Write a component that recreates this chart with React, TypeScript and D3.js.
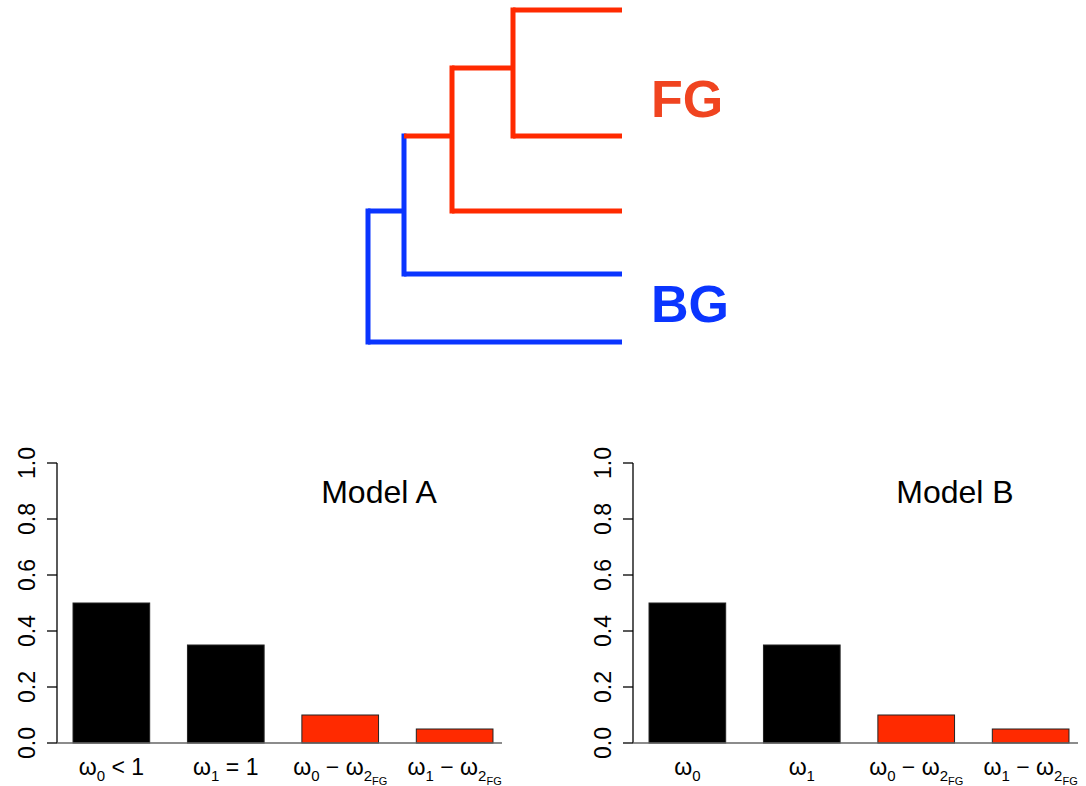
import React from 'react'
import * as d3 from 'd3'

// ---- tree data ----
interface TreeNode {
  name: string
  depth: number // branch-length distance from root
  pos: number // vertical position
  group: 'FG' | 'BG'
  children?: TreeNode[]
}

const tipDepth = 254
const tipPos = [0, 126, 201, 264, 332]
const internalDepth = [0, 36, 84, 145]
const internalPos = [266, 201, 126, 58]

const tree: TreeNode = {
  name: 'root', depth: internalDepth[0], pos: internalPos[0], group: 'BG',
  children: [
    {
      name: 'n1', depth: internalDepth[1], pos: internalPos[1], group: 'BG',
      children: [
        {
          name: 'n2', depth: internalDepth[2], pos: internalPos[2], group: 'FG',
          children: [
            {
              name: 'n3', depth: internalDepth[3], pos: internalPos[3], group: 'FG',
              children: [
                { name: 't1', depth: tipDepth, pos: tipPos[0], group: 'FG' },
                { name: 't2', depth: tipDepth, pos: tipPos[1], group: 'FG' },
              ],
            },
            { name: 't3', depth: tipDepth, pos: tipPos[2], group: 'FG' },
          ],
        },
        { name: 't4', depth: tipDepth, pos: tipPos[3], group: 'BG' },
      ],
    },
    { name: 't5', depth: tipDepth, pos: tipPos[4], group: 'BG' },
  ],
}

const groupLabels = ['FG', 'BG']

// ---- bar data ----
const categories = ['c1', 'c2', 'c3', 'c4']
const modelAValues = [0.5, 0.35, 0.1, 0.05]
const modelBValues = [0.5, 0.35, 0.1, 0.05]
const barGroups = ['BG', 'BG', 'FG', 'FG']
const yTicks = [0, 0.2, 0.4, 0.6, 0.8, 1.0]

// label parts: [text, level] level 0 = normal, 1 = subscript, 2 = sub-subscript
type Part = [string, number]
const modelALabels: Part[][] = [
  [['ω', 0], ['0', 1], [' < 1', 0]],
  [['ω', 0], ['1', 1], [' = 1', 0]],
  [['ω', 0], ['0', 1], [' − ω', 0], ['2', 1], ['FG', 2]],
  [['ω', 0], ['1', 1], [' − ω', 0], ['2', 1], ['FG', 2]],
]
const modelBLabels: Part[][] = [
  [['ω', 0], ['0', 1]],
  [['ω', 0], ['1', 1]],
  [['ω', 0], ['0', 1], [' − ω', 0], ['2', 1], ['FG', 2]],
  [['ω', 0], ['1', 1], [' − ω', 0], ['2', 1], ['FG', 2]],
]

const RED = '#ff2a00'
const BLUE = '#0a35ff'
const LABEL_RED = '#f04420'
const FONT = 'Liberation Sans, Arial, Helvetica, sans-serif'

const Tree = () => {
  const x = d3.scaleLinear().domain([0, tipDepth]).range([368, 622])
  const y = d3.scaleLinear().domain([0, 332]).range([10, 342])
  const root = d3.hierarchy(tree)
  const color = (g: string) => (g === 'FG' ? RED : BLUE)

  const paths: JSX.Element[] = []
  root.descendants().forEach((node, i) => {
    const d = node.data
    if (node.children) {
      const ys = node.children.map((c) => c.data.pos)
      paths.push(
        <line key={'v' + i} x1={x(d.depth)} x2={x(d.depth)}
          y1={y(d3.min(ys) as number) - 2.5} y2={y(d3.max(ys) as number) + 2.5}
          stroke={color(d.group)} strokeWidth={5} />
      )
    }
    if (node.parent) {
      paths.push(
        <line key={'h' + i} x1={x(node.parent.data.depth)} x2={x(d.depth)}
          y1={y(d.pos)} y2={y(d.pos)}
          stroke={color(d.group)} strokeWidth={5} />
      )
    }
  })

  return (
    <g>
      {paths}
      <text x={651} y={117} fill={LABEL_RED} fontFamily={FONT} fontWeight="bold" fontSize={52}>{groupLabels[0]}</text>
      <text x={651} y={322} fill={BLUE} fontFamily={FONT} fontWeight="bold" fontSize={52}>{groupLabels[1]}</text>
    </g>
  )
}

const Label = ({ parts, x, y }: { parts: Part[]; x: number; y: number }) => {
  const sizes = [23, 15, 11]
  const shifts = [0, 6, 10]
  return (
    <text x={x} y={y} textAnchor="middle" fontFamily={FONT} fill="#000">
      {parts.map(([t, lvl], i) => {
        const prev = i > 0 ? parts[i - 1][1] : 0
        const dy = shifts[lvl] - shifts[prev]
        return (
          <tspan key={i} fontSize={sizes[lvl]} dy={dy} style={{ whiteSpace: 'pre' }}>{t}</tspan>
        )
      })}
    </text>
  )
}

const BarPanel = ({ left, values, labels, title, titleX }: {
  left: number; values: number[]; labels: Part[][]; title: string; titleX: number
}) => {
  const top = 463
  const bottom = 743
  const x = d3.scaleBand().domain(categories).range([left, left + 452])
    .paddingInner(0.33).paddingOuter(0.14)
  const y = d3.scaleLinear().domain([0, 1]).range([bottom, top])

  return (
    <g>
      {/* y axis */}
      <line x1={left} x2={left} y1={y(0)} y2={y(1)} stroke="#000" strokeWidth={1.3} />
      {yTicks.map((t) => (
        <g key={t}>
          <line x1={left - 10} x2={left} y1={y(t)} y2={y(t)} stroke="#000" strokeWidth={1.3} />
          <text transform={`translate(${left - 30},${y(t)}) rotate(-90)`} textAnchor="middle"
            dy="0.35em" fontFamily={FONT} fontSize={23}>{t.toFixed(1)}</text>
        </g>
      ))}
      {/* bars */}
      {categories.map((c, i) => (
        <rect key={c} x={x(c)} y={y(values[i])} width={x.bandwidth()} height={y(0) - y(values[i])}
          fill={barGroups[i] === 'FG' ? RED : '#000'} stroke="#222" strokeWidth={1} />
      ))}
      {/* baseline */}
      <line x1={left} x2={left + 445} y1={y(0)} y2={y(0)} stroke="#666" strokeWidth={1.3} />
      {categories.map((c, i) => (
        <Label key={c} parts={labels[i]} x={(x(c) as number) + x.bandwidth() / 2} y={775} />
      ))}
      <text x={titleX} y={503} textAnchor="middle" fontFamily={FONT} fontSize={32}>{title}</text>
    </g>
  )
}

export default function App() {
  return (
    <svg width={1086} height={786} style={{ position: 'absolute', left: 0, top: 0, background: '#fff' }}>
      <rect width={1086} height={786} fill="#fff" />
      <Tree />
      <BarPanel left={57} values={modelAValues} labels={modelALabels} title="Model A" titleX={379} />
      <BarPanel left={633} values={modelBValues} labels={modelBLabels} title="Model B" titleX={955} />
    </svg>
  )
}
